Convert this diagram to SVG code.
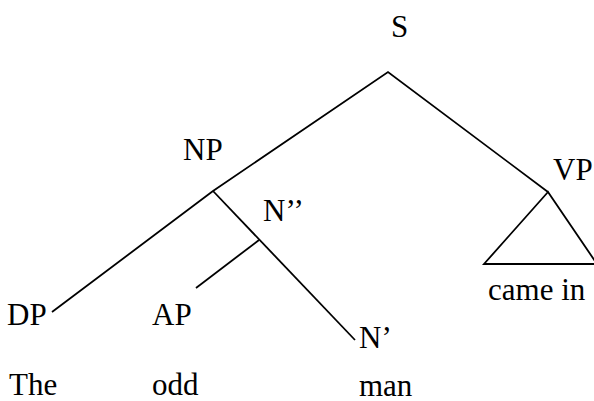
<svg xmlns="http://www.w3.org/2000/svg" width="594" height="401" viewBox="0 0 594 401">
<style>
text{font-family:"Liberation Serif","Times New Roman",serif;font-size:31px;fill:#000}
.e{fill:none;stroke:#000;stroke-width:1.8;stroke-linejoin:miter}
</style>
<rect width="594" height="401" fill="#fff"/>
<g id="connectors">
<polyline class="e" points="52,312 213,191 388,72 548,192"/>
<line class="e" x1="213" y1="191" x2="355" y2="340"/>
<line class="e" x1="259" y1="240" x2="196" y2="288"/>
<polygon class="e" points="548,192 484,264 597,264"/>
</g>
<g id="S"><text x="391" y="37">S</text></g>
<g id="NP"><text x="183" y="160">NP</text></g>
<g id="VP"><text x="553" y="180">VP</text></g>
<g id="N2"><text x="263" y="221">N’’</text></g>
<g id="DP"><text x="7" y="325">DP</text></g>
<g id="AP"><text x="152" y="325">AP</text></g>
<g id="N1"><text x="359" y="348">N’</text></g>
<g id="camein"><text x="488" y="300">came in</text></g>
<g id="The"><text x="9" y="395">The</text></g>
<g id="odd"><text x="152" y="395">odd</text></g>
<g id="man"><text x="359" y="396">man</text></g>
</svg>
